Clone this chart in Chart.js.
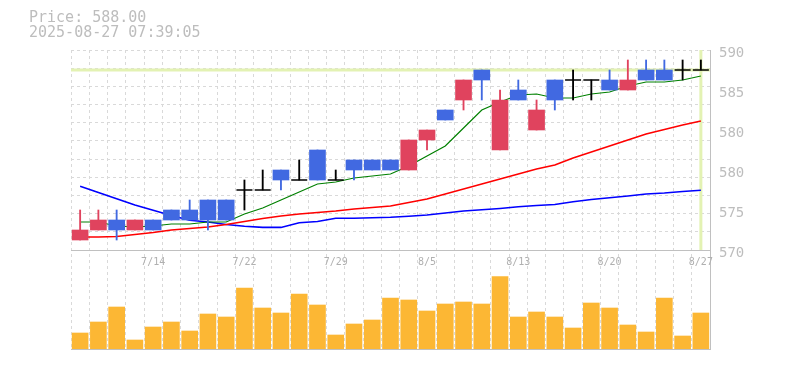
<!DOCTYPE html>
<html><head><meta charset="utf-8">
<script src="https://cdn.jsdelivr.net/npm/chart.js@4/dist/chart.umd.min.js"></script>
<style>html,body{margin:0;padding:0;background:#fff;}#wrap{width:785px;height:370px;position:relative;}</style>
</head><body><div id="wrap"><canvas id="c" width="785" height="370"></canvas></div>
<script>
const categories = ['7/8','7/9','7/10','7/11','7/14','7/15','7/16','7/17','7/18','7/22','7/23','7/24','7/25','7/28','7/29','7/30','7/31','8/1','8/4','8/5','8/6','8/7','8/8','8/12','8/13','8/14','8/15','8/18','8/19','8/20','8/21','8/22','8/25','8/26','8/27'];
const tickLabels = ['7/14','7/22','7/29','8/5','8/13','8/20','8/27'];
const openP  = [571,572,573,572,573,574,574,575,575,576,576,578,577,580,577,579,579,579,578,581,584,585,588,580,586,582,587,587,587,587,586,588,588,588,588];
const highP  = [574,574,574,573,573,574,575,575,575,577,578,578,579,580,578,579,579,579,581,582,584,587,588,586,587,585,587,588,587,588,589,589,589,589,589];
const lowP   = [571,572,571,572,572,573,573,572,573,574,576,576,577,577,577,577,578,578,578,580,583,584,585,580,585,582,584,585,585,586,586,587,587,587,588];
const closeP = [572,573,572,573,572,573,573,573,573,576,576,577,577,577,577,578,578,578,581,582,583,587,587,585,585,584,585,587,587,586,587,587,587,588,588];
const maShort = [572.8,572.8,572.4,572.3,572.4,572.6,572.6,572.8,572.8,573.6,574.2,575.0,575.8,576.6,576.8,577.2,577.4,577.6,578.4,579.4,580.4,582.2,584.0,584.8,585.5,585.6,585.2,585.2,585.6,585.8,586.4,586.8,586.8,587.0,587.4];
const maMid = [571.3,571.3,571.35,571.55,571.75,572.0,572.15,572.3,572.55,572.85,573.15,573.4,573.6,573.75,573.9,574.1,574.25,574.4,574.75,575.1,575.6,576.1,576.6,577.1,577.6,578.1,578.5,579.2,579.8,580.4,581.0,581.6,582.05,582.5,582.9];
const maLong = [576.37,575.75,575.13,574.51,573.98,573.45,572.97,572.8,572.55,572.38,572.26,572.26,572.73,572.85,573.17,573.17,573.22,573.27,573.38,573.5,573.7,573.9,574.02,574.15,574.32,574.45,574.55,574.83,575.05,575.23,575.4,575.6,575.7,575.85,575.97];
const volume = [160,270,420,90,220,270,180,350,320,610,410,360,550,440,140,250,290,510,490,380,450,470,450,723,320,370,320,210,460,410,240,170,510,130,360];
const priceTickValues = [570,574,578,582,586,590];
const lastPrice = 588.00;
const stampText = '2025-08-27 07:39:05';

const P_MIN = 570, P_MAX = 590, GRID_DIV = 11, VOL_MAX = 990;
const UP = '#e0435e', DOWN = '#4169e1', DOJI = '#000000', LIME = '#e3f2b3';
const MONO = "'DejaVu Sans Mono', monospace";
const n = categories.length;
const isDoji = i => openP[i] === closeP[i];
const bodyColor = i => isDoji(i) ? DOJI : (closeP[i] > openP[i] ? UP : DOWN);

function priceTicks() {
  const t = [];
  priceTickValues.forEach(v => t.push({value: v, lbl: true, grd: false}));
  for (let k = 0; k <= GRID_DIV; k++) {
    const v = P_MIN + k * (P_MAX - P_MIN) / GRID_DIV;
    const ex = t.find(o => Math.abs(o.value - v) < 1e-6);
    if (ex) ex.grd = true; else t.push({value: v, lbl: false, grd: true});
  }
  return t.sort((a, b) => a.value - b.value);
}

new Chart(document.getElementById('c'), {
  type: 'bar',
  data: {
    labels: categories,
    datasets: [
      {type: 'line', xAxisID: 'xl', yAxisID: 'y', order: 30,
       data: [{x: -0.5, y: lastPrice}, {x: n - 0.5, y: lastPrice}],
       borderColor: LIME, borderWidth: 3, pointRadius: 0},
      {type: 'line', xAxisID: 'xl', yAxisID: 'y', order: 30,
       data: [{x: n - 1, y: P_MIN}, {x: n - 1, y: P_MAX}],
       borderColor: LIME, borderWidth: 3, pointRadius: 0},
      {type: 'line', xAxisID: 'x', yAxisID: 'y', order: 12, data: maLong,
       borderColor: '#0000ff', borderWidth: 1.6, pointRadius: 0, tension: 0},
      {type: 'line', xAxisID: 'x', yAxisID: 'y', order: 11, data: maMid,
       borderColor: '#ff0000', borderWidth: 1.6, pointRadius: 0, tension: 0},
      {type: 'line', xAxisID: 'x', yAxisID: 'y', order: 10, data: maShort,
       borderColor: '#008000', borderWidth: 1.2, pointRadius: 0, tension: 0},
      {type: 'bar', xAxisID: 'x', yAxisID: 'y', order: 5, grouped: false,
       data: categories.map((c, i) => [lowP[i], highP[i]]),
       backgroundColor: categories.map((c, i) => bodyColor(i)), barThickness: 1.2},
      {type: 'bar', xAxisID: 'x', yAxisID: 'y', order: 4, grouped: false,
       data: categories.map((c, i) => isDoji(i) ? null : [openP[i], closeP[i]]),
       backgroundColor: categories.map((c, i) => bodyColor(i)), barThickness: 16},
      {type: 'line', xAxisID: 'x', yAxisID: 'y', order: 3, showLine: false,
       data: categories.map((c, i) => isDoji(i) ? closeP[i] : null),
       pointStyle: 'line', pointRadius: 8, pointHoverRadius: 8,
       borderColor: DOJI, pointBorderColor: DOJI, borderWidth: 1.5, pointBorderWidth: 1.5},
      {type: 'bar', xAxisID: 'x', yAxisID: 'yv', order: 6, grouped: false,
       data: volume, backgroundColor: '#fcb734', barThickness: 16}
    ]
  },
  options: {
    responsive: false, animation: false, devicePixelRatio: 1,
    events: [],
    layout: {padding: {left: 29, right: 0, top: 0, bottom: 21}},
    plugins: {
      legend: {display: false}, tooltip: {enabled: false},
      title: {display: true, align: 'start', text: ['Price: ' + lastPrice.toFixed(2), stampText],
        color: '#bdbdbd', font: {family: MONO, size: 15, weight: 'normal', lineHeight: 1.03},
        padding: {top: 10, bottom: 9.1}}
    },
    scales: {
      x: {type: 'category', offset: true,
        grid: {offset: true, color: '#d9d9d9', lineWidth: 1, drawTicks: false},
        border: {display: true, color: '#c0c0c0', dash: [3, 3]},
        ticks: {display: false}},
      xl: {type: 'linear', display: false, offset: false, grid: {offset: false},
        min: -0.5, max: n - 0.5},
      y: {type: 'linear', position: 'right', stack: 'p', stackWeight: 200, weight: 1,
        min: P_MIN, max: P_MAX,
        afterBuildTicks: s => { s.ticks = priceTicks(); },
        afterFit: s => { s.width = 75; },
        grid: {color: c => (c.tick && c.tick.grd) ? '#d9d9d9' : 'rgba(0,0,0,0)', lineWidth: 1, drawTicks: false},
        border: {display: true, color: '#c0c0c0', dash: [3, 3]},
        ticks: {autoSkip: false, padding: 9, labelOffset: 3, color: '#bdbdbd',
          font: {family: MONO, size: 14},
          callback: (v, i, t) => t[i].lbl ? String(Math.round(v / 5) * 5) : ''}},
      yv: {type: 'linear', position: 'right', stack: 'p', stackWeight: 99, weight: 2,
        min: 0, max: VOL_MAX,
        afterBuildTicks: s => { s.ticks = [{value: VOL_MAX}]; },
        afterFit: s => { s.width = 75; },
        grid: {color: '#c0c0c0', lineWidth: 1, drawTicks: false},
        border: {display: true, color: '#c0c0c0'},
        ticks: {display: false}},
      yl: {type: 'linear', position: 'left',
        grid: {display: false, drawTicks: false}, border: {display: false},
        ticks: {display: false}, afterFit: s => { s.width = 42; }},
      x2: {type: 'category', axis: 'x', position: {yv: VOL_MAX}, offset: true,
        grid: {display: false, drawTicks: false}, border: {display: false},
        ticks: {autoSkip: false, maxRotation: 0, minRotation: 0, padding: 6, color: '#b0b0b0',
          font: {family: MONO, size: 10},
          callback: function (v) { const l = this.getLabelForValue(v); return tickLabels.includes(l) ? l : ''; }}}
    }
  }
});
</script></body></html>
